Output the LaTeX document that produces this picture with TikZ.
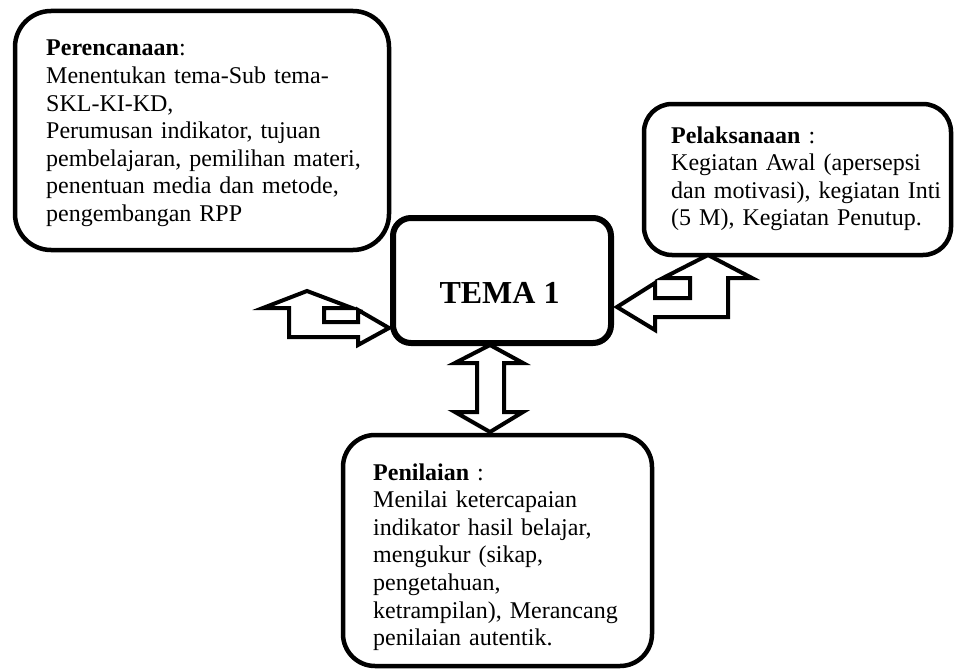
\documentclass[tikz,border=0pt]{standalone}
\usepackage{fontspec}
\setmainfont{Liberation Serif}
\begin{document}
\begin{tikzpicture}[x=1pt,y=-1pt,
  box/.style={draw=black, line width=4.5pt, fill=white, rectangle, inner sep=0pt},
  txt/.style={anchor=base west, inner sep=0pt, text width=380pt, align=left,
    font=\fontsize{24}{27.6}\selectfont},
  blockarrow/.style={draw=black, fill=white, line width=4pt, line join=miter}]
\useasboundingbox (0,0) rectangle (956,669);

% boxes
\node[box, rounded corners=36pt, minimum width=374pt, minimum height=239pt] (plan) at (202,130.5) {};
\node[box, rounded corners=28pt, minimum width=307pt, minimum height=151pt] (exec) at (797.5,179.5) {};
\node[box, rounded corners=32pt, minimum width=309pt, minimum height=231pt] (eval) at (497.5,550.5) {};
\node[box, line width=6pt, rounded corners=18pt, minimum width=218pt, minimum height=125pt] (tema) at (502,280.5) {};

% texts
\node[anchor=base, inner sep=0pt, font=\fontsize{32}{36}\selectfont\bfseries] (tema-label) at (499.5,303) {TEMA 1};
\node[txt] (plan-text) at (46,56) {\textbf{Perencanaan}:\\
Menentukan tema-Sub tema-\\
SKL-KI-KD,\\
Perumusan indikator, tujuan\\
pembelajaran, pemilihan materi,\\
penentuan media dan metode,\\
pengembangan RPP};
\node[txt] (exec-text) at (671,143) {\textbf{Pelaksanaan} :\\
Kegiatan Awal (apersepsi\\
dan motivasi), kegiatan Inti\\
(5 M), Kegiatan Penutup.};
\node[txt] (eval-text) at (373,480) {\textbf{Penilaian} :\\
Menilai ketercapaian\\
indikator hasil belajar,\\
mengukur (sikap,\\
pengetahuan,\\
ketrampilan), Merancang\\
penilaian autentik.};

% bent arrow between planning and the theme
\draw[blockarrow] (263,308) -- (307,291) -- (352,308) -- (324,308) -- (324,322)
  -- (358,322) -- (358,310) -- (389,328) -- (358,345) -- (358,337)
  -- (289,337) -- (289,308) -- cycle;

% bent arrow between the theme and implementation
\draw[blockarrow] (708,255) -- (752,278) -- (728,278) -- (728,317) -- (655,317)
  -- (655,330) -- (617,307) -- (655,283) -- (655,298) -- (690,298)
  -- (690,278) -- (663,278) -- cycle;

% double arrow between the theme and assessment
\draw[blockarrow] (490,345) -- (523,363) -- (504,363) -- (504,412) -- (523,412)
  -- (490,432) -- (455,412) -- (477,412) -- (477,363) -- (455,363) -- cycle;
\end{tikzpicture}
\end{document}
